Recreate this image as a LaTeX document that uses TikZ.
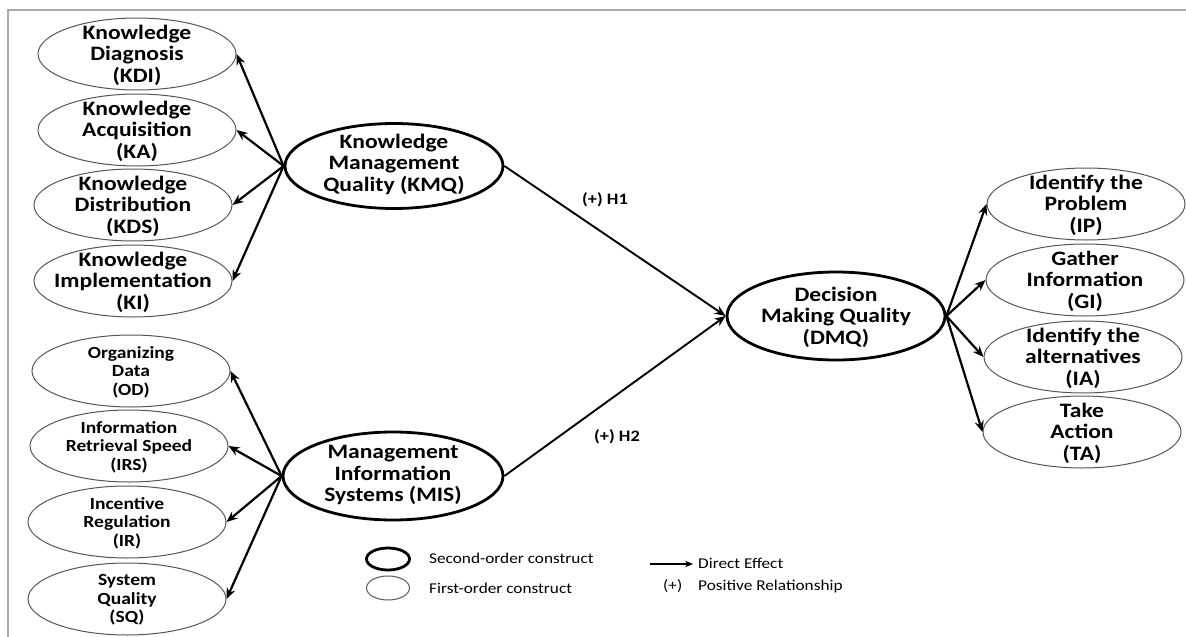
\documentclass[tikz,border=0pt]{standalone}
\usepackage{fontspec}
\setmainfont{Carlito}[FakeStretch=1.15]
\usetikzlibrary{shapes.geometric,arrows.meta}
\definecolor{fogray}{RGB}{85,85,85}
\definecolor{framegray}{RGB}{170,170,170}
\begin{document}
\begin{tikzpicture}[x=1pt,y=-1pt,
  fo/.style={ellipse, draw=fogray, line width=1pt, minimum width=198pt, minimum height=72pt, inner sep=0pt},
  so/.style={ellipse, draw=black, line width=2.8pt, minimum width=218pt, minimum height=85pt, inner sep=0pt},
  lbl/.style={font=\fontsize{20.5}{21.5}\selectfont\bfseries, align=center, inner sep=0pt},
  lbls/.style={font=\fontsize{17}{18.5}\selectfont\bfseries, align=center, inner sep=0pt},
  hyp/.style={font=\fontsize{16}{18}\selectfont\bfseries, inner sep=0pt},
  leg/.style={font=\fontsize{15}{17}\selectfont, anchor=west, inner sep=0pt},
  arr/.style={-{Stealth[length=11pt,width=9pt]}, line width=2.2pt},
  harr/.style={-{Stealth[length=11pt,width=9pt]}, line width=1.9pt}]
\useasboundingbox (0,0) rectangle (1186,637);
% frame
\draw[framegray, line width=2pt] (8,637) -- (8,9.5) -- (1186,9.5);

% first-order, top left
\node[fo] (KDI) at (137,54) {};
\node[lbl] (KDIt) at (137,55) {Knowledge\\Diagnosis\\(KDI)};
\node[fo] (KA) at (137,130) {};
\node[lbl] (KAt) at (137,131) {Knowledge\\Acquisition\\(KA)};
\node[fo] (KDS) at (133,205) {};
\node[lbl] (KDSt) at (133,206) {Knowledge\\Distribution\\(KDS)};
\node[fo] (KI) at (133,281) {};
\node[lbl] (KIt) at (133,282) {Knowledge\\Implementation\\(KI)};

% first-order, bottom left
\node[fo] (OD) at (131,371) {};
\node[lbls] (ODt) at (131,372) {Organizing\\Data\\(OD)};
\node[fo] (IRS) at (129,446) {};
\node[lbls] (IRSt) at (129,447) {Information\\Retrieval Speed\\(IRS)};
\node[fo] (IR) at (127,522) {};
\node[lbls] (IRt) at (127,523) {Incentive\\Regulation\\(IR)};
\node[fo] (SQ) at (127,599) {};
\node[lbls] (SQt) at (127,600) {System\\Quality\\(SQ)};

% second-order
\node[so] (KMQ) at (394,166) {};
\node[lbl] (KMQt) at (394,164) {Knowledge\\Management\\Quality (KMQ)};
\node[so, minimum width=220pt, minimum height=88pt] (MIS) at (393,476) {};
\node[lbl] (MISt) at (393,475) {Management\\Information\\Systems (MIS)};
\node[so, minimum height=88pt] (DMQ) at (836,316) {};
\node[lbl] (DMQt) at (836,317) {Decision\\Making Quality\\(DMQ)};

% first-order, right
\node[fo] (IP) at (1086,204) {};
\node[lbl] (IPt) at (1086,205) {Identify the\\Problem\\(IP)};
\node[fo] (GI) at (1085,280) {};
\node[lbl] (GIt) at (1085,281) {Gather\\Information\\(GI)};
\node[fo] (IA) at (1083,357) {};
\node[lbl] (IAt) at (1083,358) {Identify the\\alternatives\\(IA)};
\node[fo] (TA) at (1082,432) {};
\node[lbl] (TAt) at (1082,433) {Take\\Action\\(TA)};

% arrows
\foreach \t in {KDI,KA,KDS,KI} \draw[arr] (KMQ.west) -- (\t.east);
\foreach \t in {OD,IRS,IR,SQ} \draw[arr] (MIS.west) -- (\t.east);
\foreach \t in {IP,GI,IA,TA} \draw[arr] (DMQ.east) -- (\t.west);
\draw[harr] (KMQ.east) -- (DMQ.west);
\draw[harr] (MIS.east) -- (DMQ.west);
\node[hyp] (H1) at (605,200) {(+) H1};
\node[hyp] (H2) at (617,437) {(+) H2};

% legend
\node[ellipse, draw=black, line width=2.8pt, minimum width=43pt, minimum height=22pt, inner sep=0pt] (LS) at (388,559) {};
\node[ellipse, draw=fogray, line width=1pt, minimum width=43pt, minimum height=24pt, inner sep=0pt] (LF) at (388,588) {};
\node[leg] (LSt) at (429,558) {Second-order construct};
\node[leg] (LFt) at (429,588) {First-order construct};
\coordinate (LA1) at (650,564);
\coordinate (LA2) at (693,564);
\draw[-{Stealth[length=8pt,width=6.5pt]}, line width=1.4pt] (LA1) -- (LA2);
\node[leg] (LAt) at (698,563) {Direct Effect};
\node[leg] (LPs) at (663,586) {(+)};
\node[leg] (LPt) at (698,586) {Positive Relationship};
\end{tikzpicture}
\end{document}
